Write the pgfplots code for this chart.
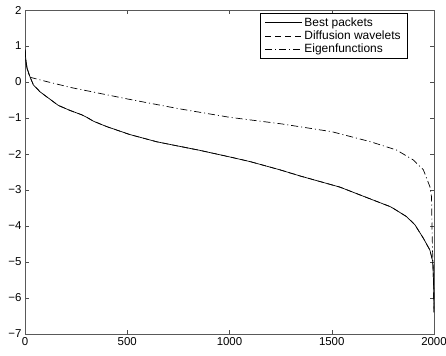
\documentclass[border=0pt]{standalone}
\usepackage{fontspec}
\setmainfont{Liberation Sans}
\usepackage{pgfplots}
\pgfplotsset{compat=1.18}
\begin{document}
\begin{tikzpicture}
\useasboundingbox (-25bp,-22bp) rectangle (421bp,334bp);
\begin{axis}[
  scale only axis,
  width=409bp, height=324bp,
  xmin=0, xmax=2000, ymin=-7, ymax=2,
  xtick={0,500,1000,1500,2000},
  xticklabels={0,500,1000,1500,2000},
  ytick={-7,-6,-5,-4,-3,-2,-1,0,1,2},
  yticklabels={−7,−6,−5,−4,−3,−2,−1,0,1,2},
  tick align=inside,
  xtick pos=both, ytick pos=both,
  major tick length=4bp,
  axis line style={black!65, line width=0.7pt},
  every tick/.style={black!70, line width=0.5pt},
  tick label style={font=\fontsize{11.5}{13}\selectfont},
  legend cell align=left,
  legend style={at={(rel axis cs:0.936,0.991)}, anchor=north east,
    font=\fontsize{12}{14}\selectfont, draw=black, line width=0.5pt,
    inner xsep=5bp, inner ysep=2.5bp, row sep=-1bp},
  legend image code/.code={\draw[#1] (0bp,0bp) -- (37bp,0bp);},
]
\addplot[black, line width=0.7pt] coordinates {
(0,0.9) (2,0.75) (5,0.56) (12,0.35) (24,0.15) (41,-0.08) (73,-0.27) (106,-0.41)
(139,-0.55) (163,-0.65) (220,-0.79) (277,-0.91) (305,-0.99) (335,-1.09) (400,-1.24)
(513,-1.46) (644,-1.66) (856,-1.90) (1000,-2.08) (1100,-2.21) (1247,-2.44) (1345,-2.61)
(1540,-2.92) (1703,-3.28) (1785,-3.46) (1801,-3.51) (1866,-3.74) (1907,-3.97)
(1948,-4.34) (1980,-4.67) (1994,-4.99) (1998,-5.6) (2000,-6.4)
};
\addlegendentry{Best packets}
\addplot[black, line width=0.7pt, dash pattern=on 6bp off 4bp] coordinates {
(0,0.9) (2,0.75) (5,0.56) (12,0.35) (24,0.15) (41,-0.08) (73,-0.27) (106,-0.41)
(139,-0.55) (163,-0.65) (220,-0.79) (277,-0.91) (305,-0.99) (335,-1.09) (400,-1.24)
(513,-1.46) (644,-1.66) (856,-1.90) (1000,-2.08) (1100,-2.21) (1247,-2.44) (1345,-2.61)
(1540,-2.92) (1703,-3.28) (1785,-3.46) (1801,-3.51) (1866,-3.74) (1907,-3.97)
(1948,-4.34) (1980,-4.67) (1994,-4.99) (1998,-5.6) (2000,-6.4)
};
\addlegendentry{Diffusion wavelets}
\addplot[black, line width=0.7pt, dash pattern=on 7bp off 3bp on 1bp off 3bp] coordinates {
(0,0.9) (5,0.5) (15,0.25) (26,0.13) (100,0.02) (230,-0.16) (500,-0.47) (750,-0.74)
(1000,-0.98) (1250,-1.16) (1500,-1.38) (1690,-1.66) (1817,-1.89) (1900,-2.17)
(1948,-2.44) (1980,-2.91) (1988,-3.2) (1990,-4.0) (1993,-4.7) (1997,-5.3) (2000,-6.4)
};
\addlegendentry{Eigenfunctions}
\end{axis}
\end{tikzpicture}
\end{document}
